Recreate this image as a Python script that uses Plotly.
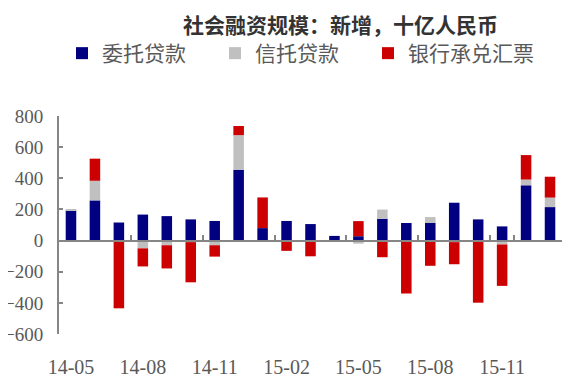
import plotly.graph_objects as go

months = ["14-05", "14-06", "14-07", "14-08", "14-09", "14-10", "14-11", "14-12",
          "15-01", "15-02", "15-03", "15-04", "15-05", "15-06", "15-07", "15-08",
          "15-09", "15-10", "15-11", "15-12", "16-01"]
entrusted_loans = [195, 258, 116, 167, 157, 136, 126, 455, 80, 126, 106, 30, 28, 140,
                   113, 113, 243, 136, 91, 355, 215]
trust_loans = [5, 126, 0, -50, -30, -10, -30, 222, 0, -5, 0, -5, -20, 59, 0, 38, -10,
               0, -25, 37, 61]
bankers_acceptance = [0, 142, -435, -116, -149, -258, -73, 59, 197, -61, -101, 0, 97,
                      -107, -340, -162, -142, -399, -266, 157, 134]
y_ticks = [-600, -400, -200, 0, 200, 400, 600, 800]
x_tick_labels = months[::3]

title_text = "社会融资规模：新增，十亿人民币"
names = ["委托贷款", "信托贷款", "银行承兑汇票"]
colors = ["#000080", "#C0C0C0", "#CC0000"]
legend_widths = [108, 108, 135]

fig = go.Figure()
for name, vals, col, lw in zip(names, [entrusted_loans, trust_loans, bankers_acceptance],
                               colors, legend_widths):
    fig.add_trace(go.Bar(x=months, y=vals, name=name, legendwidth=lw,
                         marker=dict(color=col, line=dict(width=0))))

ymin, ymax = y_ticks[0], y_ticks[-1]
zero_pos = (0 - ymin) / (ymax - ymin)
axis_gray = "#868686"
serif = "Liberation Serif, Times New Roman, serif"
tick_font = dict(family=serif, size=20, color="#595959")
ytick_font = dict(family=serif, size=19, color="#595959")

W, H = 564, 370  # page body has an 8px margin

fig.update_layout(
    width=W, height=H,
    margin=dict(l=51, r=10, t=108, b=44, autoexpand=False),
    paper_bgcolor="white", plot_bgcolor="white",
    barmode="relative", bargap=0.56,
    title=dict(text=title_text, x=332.5 / W, xanchor="center", xref="container",
               y=1 - 18 / H, yanchor="middle", yref="container", automargin=False,
               font=dict(family="Noto Sans CJK SC", size=21, color="#333333", weight="bold")),
    legend=dict(orientation="h", xref="container", yref="container",
                x=54 / W, xanchor="left", y=1 - 45.5 / H, yanchor="middle",
                font=dict(family="Noto Sans CJK SC", size=21, color="#595959"),
                itemwidth=30, bgcolor="rgba(0,0,0,0)"),
    # category axis drawn along y=0, with upward boundary ticks, labels pushed to the bottom
    xaxis=dict(type="category", anchor="free", position=zero_pos, side="bottom",
               showline=True, linecolor=axis_gray, linewidth=2,
               showgrid=False, zeroline=False,
               ticks="inside", ticklen=5, tickwidth=2, tickcolor=axis_gray,
               tickson="boundaries", tickangle=0,
               tickmode="array", tickvals=x_tick_labels, ticktext=x_tick_labels,
               tickfont=tick_font, ticklabelstandoff=108, automargin=False),
    yaxis=dict(range=[ymin, ymax], tickvals=y_ticks, showgrid=False, zeroline=False,
               showline=True, linecolor=axis_gray, linewidth=2,
               ticks="inside", ticklen=4, tickwidth=2, tickcolor=axis_gray,
               tickfont=ytick_font, ticklabelstandoff=10, automargin=False),
)

fig.write_html("out.html")
